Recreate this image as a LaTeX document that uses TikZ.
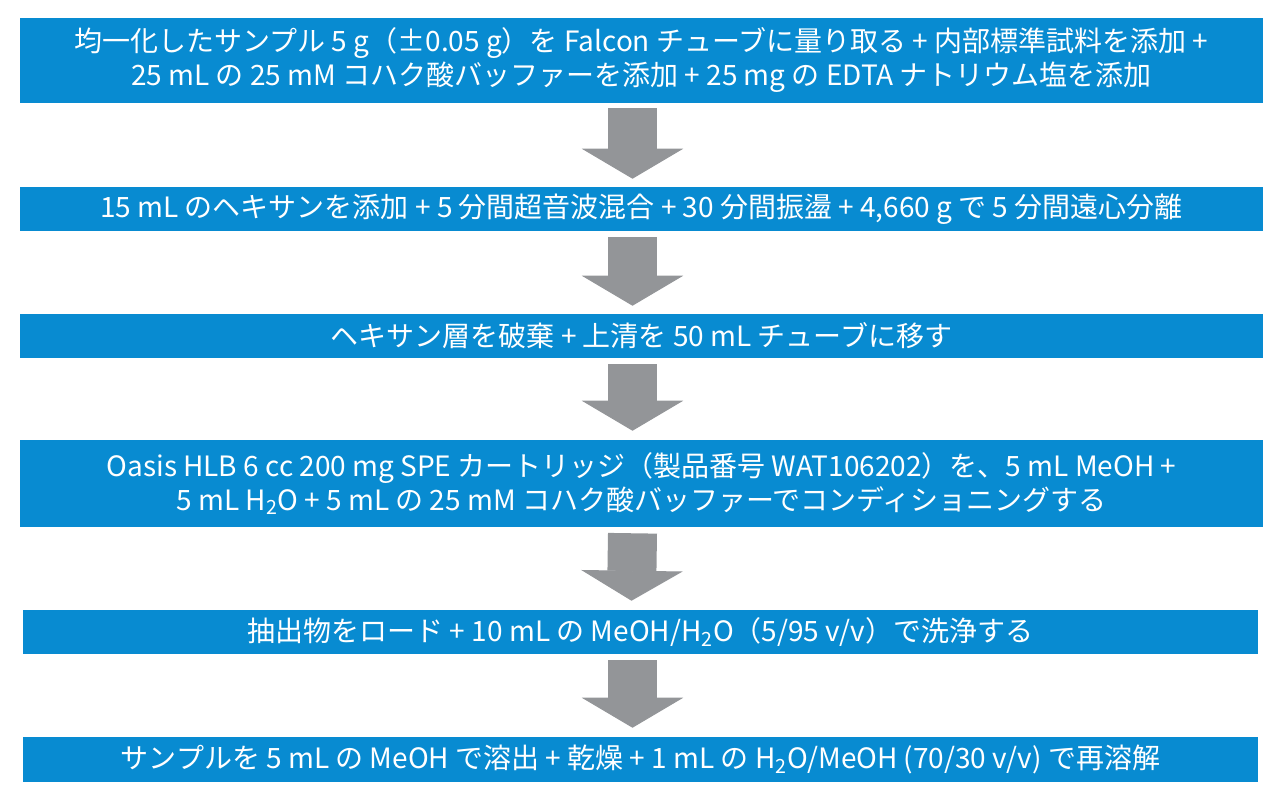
\documentclass[tikz,border=0pt]{standalone}
\usepackage{fontspec}
\setmainfont{Noto Sans CJK JP}
\usepackage{tikz}
\usetikzlibrary{calc,arrows.meta}

\definecolor{stepblue}{RGB}{8,139,209}
\definecolor{arrowgrey}{RGB}{147,149,152}

\tikzset{
  stepbox/.style={fill=stepblue, text=white, inner sep=0pt, align=center, minimum width=932.25pt, font=\fontsize{21}{25.5}\selectfont},
  narrowbox/.style={stepbox, minimum width=926.25pt},
  flowarrow/.style={draw=arrowgrey, line width=36.75pt, -{Triangle[width=76pt,length=22.5pt,line width=0.75pt]}}
}

\begin{document}
\begin{tikzpicture}[x=0.75pt,y=0.75pt,yscale=-1,xscale=1]
\useasboundingbox (0,0) rectangle (1280,806); %picture is 1280 x 806

%Shape: Rectangle [step 1] 
\draw (641.5,60.5) node [stepbox, minimum height=63.75pt] (box1) {均一化したサンプル 5 g（±0.05 g）を Falcon チューブに量り取る + 内部標準試料を添加 +\\25 mL の 25 mM コハク酸バッファーを添加 + 25 mg の EDTA ナトリウム塩を添加};
%Shape: Rectangle [step 2] 
\draw (641.5,209) node [stepbox, minimum height=33pt] (box2) {15 mL のヘキサンを添加 + 5 分間超音波混合 + 30 分間振盪 + 4,660 g で 5 分間遠心分離};
%Shape: Rectangle [step 3] 
\draw (641.5,336) node [stepbox, minimum height=33pt] (box3) {ヘキサン層を破棄 + 上清を 50 mL チューブに移す};
%Shape: Rectangle [step 4] 
\draw (641.5,483.5) node [stepbox, minimum height=65.25pt] (box4) {Oasis HLB 6 cc 200 mg SPE カートリッジ（製品番号 WAT106202）を、5 mL MeOH +\\5 mL H\textsubscript{2}O + 5 mL の 25 mM コハク酸バッファーでコンディショニングする};
%Shape: Rectangle [step 5] 
\draw (640.5,632) node [narrowbox, minimum height=33pt] (box5) {抽出物をロード + 10 mL の MeOH/H\textsubscript{2}O（5/95 v/v）で洗浄する};
%Shape: Rectangle [step 6] 
\draw (640.5,759.5) node [narrowbox, minimum height=33.75pt] (box6) {サンプルを 5 mL の MeOH で溶出 + 乾燥 + 1 mL の H\textsubscript{2}O/MeOH (70/30 v/v) で再溶解};

%Block Arrows 
\draw [flowarrow] ($(box1.south)+(-9,5)$) -- ($(box2.north)+(-9,-8)$) ;
\draw [flowarrow] ($(box2.south)+(-9,6)$) -- ($(box3.north)+(-9,-8)$) ;
\draw [flowarrow] ($(box3.south)+(-9,6)$) -- ($(box4.north)+(-9,-9)$) ;
\draw [flowarrow] ($(box4.south)+(-9,6)$) -- ($(box5.north)+(-9,-9)$) ;
\draw [flowarrow] ($(box5.south)+(-8,6)$) -- ($(box6.north)+(-8,-9)$) ;

\end{tikzpicture}
\end{document}
